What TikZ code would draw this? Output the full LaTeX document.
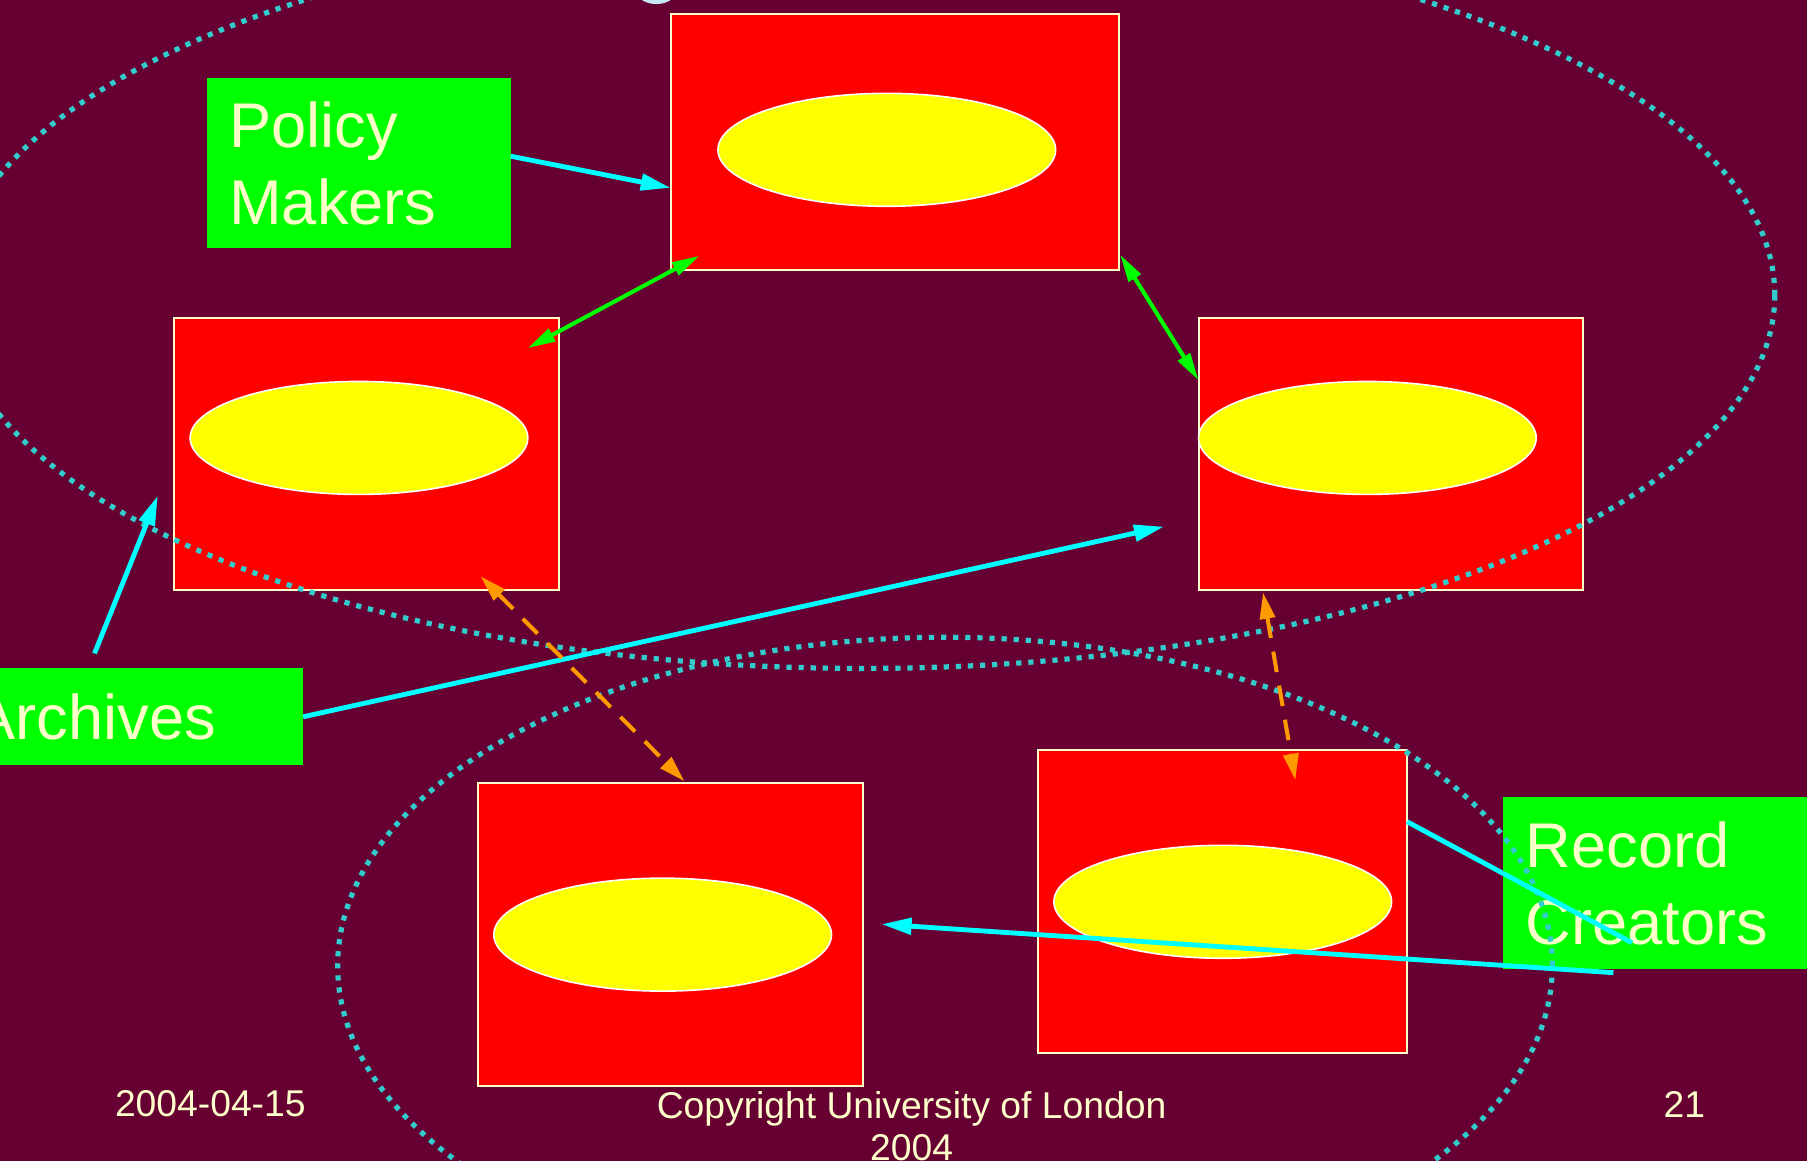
\documentclass[tikz,border=0pt]{standalone}
\usepackage{fontspec}
\setmainfont{Liberation Sans}
\usetikzlibrary{calc}
\usetikzlibrary{arrows.meta}
\usetikzlibrary{shapes.geometric}

\definecolor{slidebg}{HTML}{660033}
\definecolor{cream}{HTML}{FFFFCC}
\definecolor{boxred}{HTML}{FF0000}
\definecolor{blobyellow}{HTML}{FFFF00}
\definecolor{labelgreen}{HTML}{00FF00}
\definecolor{linkcyan}{HTML}{00FFFF}
\definecolor{ringteal}{HTML}{33CCCC}
\definecolor{linkorange}{HTML}{FF9900}
\definecolor{titleblue}{HTML}{C4E6F5}

\tikzset{
  unitbox/.style={draw=cream, line width=0.5pt, fill=boxred, inner sep=0pt, outer sep=0pt, anchor=north west},
  blob/.style={ellipse, draw=white, line width=0.4pt, fill=blobyellow, minimum width=2.93cm, minimum height=0.98cm, inner sep=0pt},
  actor/.style={fill=labelgreen, text=cream, font=\fontsize{15.6}{19}\selectfont, align=left, anchor=north west, inner ysep=0pt, outer sep=0pt},
  ring/.style={draw=ringteal, line width=0.45mm, dash pattern=on 0.45mm off 0.6mm},
  feed/.style={draw=linkcyan, line width=1.2pt, -{Triangle[length=2.6mm,width=1.4mm]}},
  peerlink/.style={draw=labelgreen, line width=1pt, {Triangle[length=2.4mm,width=1.2mm]}-{Triangle[length=2.4mm,width=1.2mm]}},
  exchange/.style={draw=linkorange, line width=1pt, dash pattern=on 1.8mm off 1.2mm, {Triangle[length=2.3mm,width=1.3mm]}-{Triangle[length=2.3mm,width=1.3mm]}},
  foot/.style={text=cream, font=\fontsize{9.2}{10.5}\selectfont, inner sep=0pt},
}

\begin{document}
\begin{tikzpicture}
    \useasboundingbox (0,0) rectangle (15.68,-10.07);
    \fill[slidebg] (0,0) rectangle (15.68,-10.07);

    % bit of the title showing at the top
    \fill[titleblue] (5.695,0.06) ellipse [x radius=0.16, y radius=0.095];

    % the five units
    \node[unitbox, minimum width=3.89cm, minimum height=2.22cm] (top) at (5.82,-0.12) {};
    \node[unitbox, minimum width=3.34cm, minimum height=2.36cm] (left) at (1.51,-2.76) {};
    \node[unitbox, minimum width=3.34cm, minimum height=2.36cm] (right) at (10.40,-2.76) {};
    \node[unitbox, minimum width=3.34cm, minimum height=2.63cm] (botl) at (4.15,-6.79) {};
    \node[unitbox, minimum width=3.20cm, minimum height=2.63cm] (botr) at (9.01,-6.51) {};

    \node[blob] (topblob) at (7.695,-1.30) {};
    \node[blob] (leftblob) at (3.115,-3.80) {};
    \node[blob] (rightblob) at (11.865,-3.80) {};
    \node[blob] (botlblob) at (5.75,-8.11) {};
    \node[blob] (botrblob) at (10.61,-7.825) {};

    % actors
    \node[actor, inner xsep=0.19cm, text width=2.25cm, minimum width=2.63cm, minimum height=1.47cm] (pm) at (1.80,-0.68) {Policy\\Makers};
    \node[actor, inner xsep=0.27cm, text width=2.59cm, minimum width=3.13cm, minimum height=0.84cm] (arch) at (-0.50,-5.80) {Archives};
    \node[actor, inner xsep=0.20cm, text width=2.80cm, minimum width=3.20cm, minimum height=1.49cm] (rc) at (13.04,-6.92) {Record\\Creators};

    % dotted rings
    \draw[ring] (7.49,-2.56) ellipse [x radius=7.91, y radius=3.24];
    \draw[ring] (8.20,-8.38) ellipse [x radius=5.27, y radius=2.85];

    % connectors
    \draw[feed] ([yshift=0.6mm]pm.east) -- ([yshift=-4mm]top.west);
    \draw[feed] ($(arch.north)+(-0.245,0.13)$) -- ($(left.south west)+(-0.14,0.82)$);
    \draw[feed] (arch.east) -- ($(right.west)+(-0.3,-0.63)$);
    \draw[feed] ($(rc.south west)+(0.96,-0.03)$) -- ($(botl.east)+(0.16,0.085)$);
    \draw[draw=linkcyan, line width=1.2pt] ($(rc.west)+(1.12,-0.515)$) -- ([yshift=6.95mm]botr.east);

    \draw[peerlink] ($(top.south west)+(0.25,0.12)$) -- ($(left.north east)+(-0.27,-0.26)$);
    \draw[peerlink] ($(top.south east)+(0.01,0.13)$) -- ($(right.north west)+(0,-0.54)$);

    \draw[exchange] ($(left.south)+(0.99,0.12)$) -- ($(botl.north)+(0.12,0.01)$);
    \draw[exchange] ($(right.south)+(-1.11,-0.02)$) -- ($(botr.north)+(0.63,-0.26)$);

    % footer
    \node[foot] (date) at (1.825,-9.58) {2004-04-15};
    \node[foot, align=center, anchor=north] (copy) at (7.91,-9.46) {Copyright University of London\\2004};
    \node[foot] (page) at (14.615,-9.58) {21};
\end{tikzpicture}
\end{document}
